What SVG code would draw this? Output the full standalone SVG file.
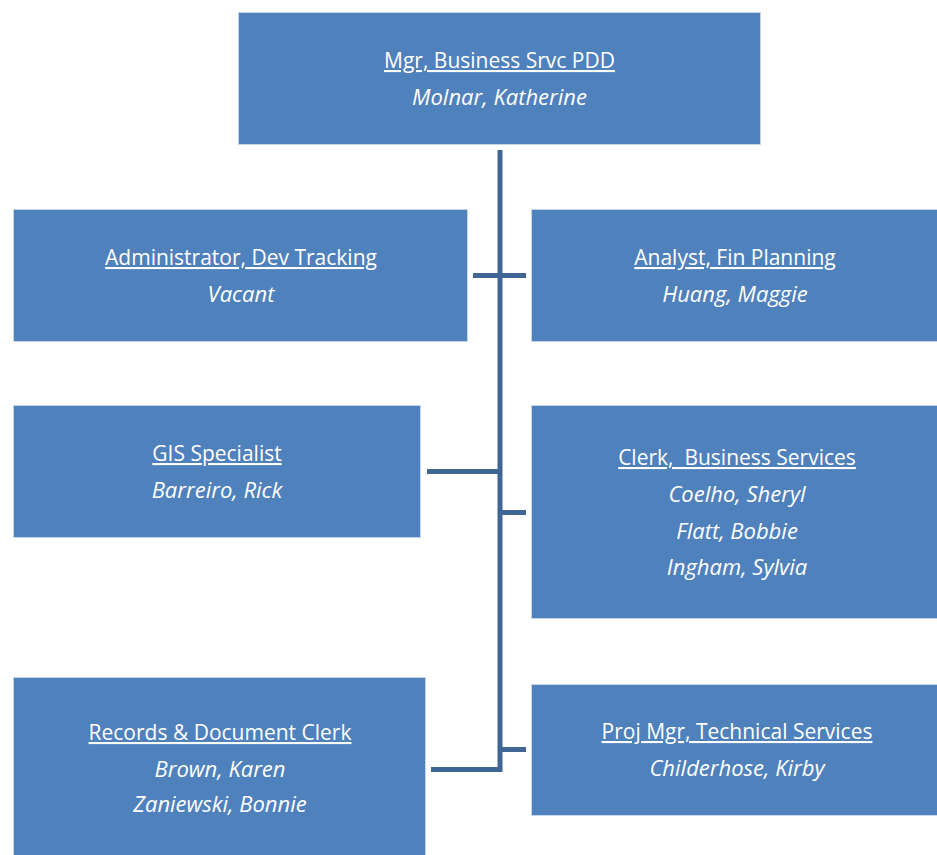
<svg xmlns="http://www.w3.org/2000/svg" width="937" height="855" viewBox="0 0 937 855">
<style>
.box{fill:#4F81BD;stroke:#C5D5EA;stroke-width:1}
.t{font-family:"Open Sans","Liberation Sans",sans-serif;font-size:21px;fill:#fff;text-anchor:middle;text-decoration:underline;white-space:pre}
.n{font-family:"Open Sans","Liberation Sans",sans-serif;font-size:22px;fill:#fff;text-anchor:middle;font-style:italic}
.c{stroke:#3F6695;stroke-width:5;fill:none}
</style>
<rect width="937" height="855" fill="#fff"/>
<g id="connectors">
<path class="c" d="M500,150 V769.5 H431"/>
<path class="c" d="M473,275.5 H526"/>
<path class="c" d="M427,471.5 H500"/>
<path class="c" d="M500,512.5 H526"/>
<path class="c" d="M500,749.5 H526"/>
</g>
<g id="mgr">
<rect class="box" x="238.5" y="12.5" width="522" height="132"/>
<text class="t" x="499.5" y="68">Mgr, Business Srvc PDD</text>
<text class="n" x="499.5" y="105">Molnar, Katherine</text>
</g>
<g id="admin">
<rect class="box" x="13.5" y="209.5" width="454" height="132"/>
<text class="t" x="241" y="265">Administrator, Dev Tracking</text>
<text class="n" x="241" y="302">Vacant</text>
</g>
<g id="analyst">
<rect class="box" x="531.5" y="209.5" width="406" height="132"/>
<text class="t" x="735" y="265">Analyst, Fin Planning</text>
<text class="n" x="735" y="302">Huang, Maggie</text>
</g>
<g id="gis">
<rect class="box" x="13.5" y="405.5" width="407" height="132"/>
<text class="t" x="217" y="461">GIS Specialist</text>
<text class="n" x="217" y="498">Barreiro, Rick</text>
</g>
<g id="clerk">
<rect class="box" x="531.5" y="405.5" width="406" height="213"/>
<text class="t" x="737" y="465">Clerk,  Business Services</text>
<text class="n" x="737" y="502">Coelho, Sheryl</text>
<text class="n" x="737" y="539">Flatt, Bobbie</text>
<text class="n" x="737" y="575">Ingham, Sylvia</text>
</g>
<g id="records">
<rect class="box" x="13.5" y="677.5" width="412" height="178"/>
<text class="t" x="220" y="740">Records &amp; Document Clerk</text>
<text class="n" x="220" y="777">Brown, Karen</text>
<text class="n" x="220" y="812">Zaniewski, Bonnie</text>
</g>
<g id="proj">
<rect class="box" x="531.5" y="684.5" width="406" height="131"/>
<text class="t" x="737" y="739">Proj Mgr, Technical Services</text>
<text class="n" x="737" y="776">Childerhose, Kirby</text>
</g>
</svg>
